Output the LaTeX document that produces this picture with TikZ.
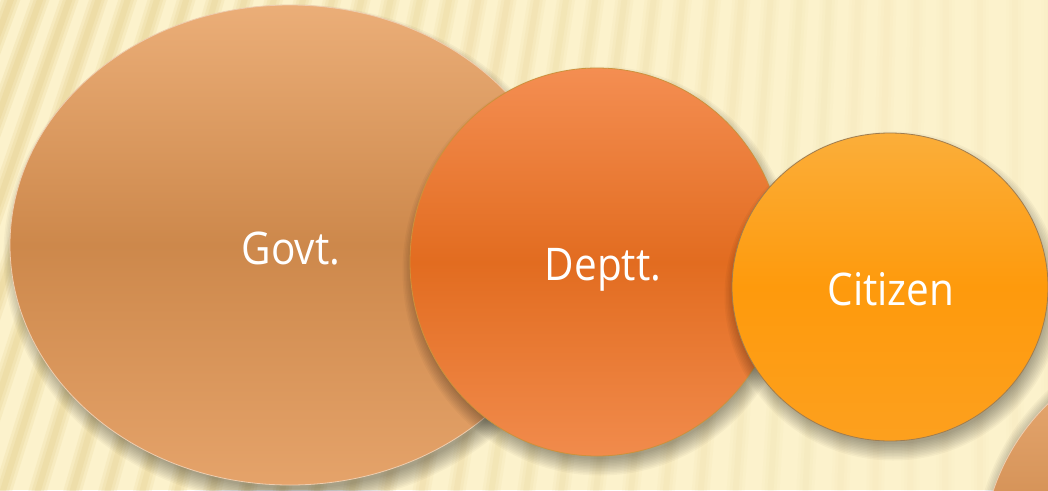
\documentclass[tikz,border=0pt]{standalone}
\usepackage{fontspec}
\setmainfont[FakeStretch=0.9]{Open Sans}
\usetikzlibrary{shapes.geometric}

\definecolor{bgC}{RGB}{252,242,204}
\definecolor{stripeC}{RGB}{228,206,140}
\definecolor{govtTop}{RGB}{235,174,120}
\definecolor{govtMid}{RGB}{205,136,75}
\definecolor{govtBot}{RGB}{229,163,106}
\definecolor{govtRim}{RGB}{238,205,175}
\definecolor{depTop}{RGB}{244,142,82}
\definecolor{depMid}{RGB}{226,108,32}
\definecolor{depBot}{RGB}{241,139,76}
\definecolor{depRim}{RGB}{205,145,60}
\definecolor{citTop}{RGB}{251,174,58}
\definecolor{citMid}{RGB}{254,154,12}
\definecolor{citBot}{RGB}{253,160,30}
\definecolor{citRim}{RGB}{160,125,80}

\tikzset{
  disc/.style={ellipse, inner sep=0pt, line width=0.8pt},
  softshadow/.style={fill=black, fill opacity=0.032},
  caption/.style={text=white, inner sep=0pt, anchor=base,
    font=\fontsize{45}{50}\selectfont},
  stripe/.style={draw=stripeC, line cap=butt},
}

% soft drop shadow under an ellipse centred at #1
\newcommand{\dropshade}[4]{%
  \foreach \k in {0,...,11}{
    \fill[softshadow] ([shift={(#4)}]#1)
      ellipse [x radius={#2pt-6pt+\k*1.5pt}, y radius={#3pt-6pt+\k*1.5pt}];
  }%
}

\begin{document}
\begin{tikzpicture}[x=1pt,y=-1pt]
  \useasboundingbox (0,0) rectangle (1048,490);

  % striped paper background, soft bands fading towards the right
  \fill[bgC] (0,0) rectangle (1048,490);
  \begin{scope}
    \clip (0,0) rectangle (1048,490);
    \foreach \i in {-8,...,32}{
      \pgfmathsetmacro\xb{\i*35}
      \pgfmathsetmacro\tl{max(0,160*(1-\xb/950))}
      \pgfmathsetmacro\op{max(0.10,0.75-0.75*\xb/1048)}
      \foreach \w/\f in {18/0.25,12/0.3,6/0.35}{
        \draw[stripe, line width=\w pt, draw opacity=\f*\op]
          (\xb,500) -- (\xb+\tl,-10);
      }
    }
  \end{scope}

  % centres
  \coordinate (govtC) at (290,245);
  \coordinate (depC) at (597,262);
  \coordinate (citC) at (890,287);
  \coordinate (cornerC) at (1200,560);

  % corner disc
  \dropshade{cornerC}{218}{218}{3,-2}
  \node[disc, minimum width=436pt, minimum height=436pt,
        top color=govtTop, bottom color=govtBot, middle color=govtMid,
        draw=govtRim] (corner) at (cornerC) {};

  % Govt.
  \dropshade{govtC}{280}{240}{4,10}
  \node[disc, minimum width=560pt, minimum height=480pt,
        top color=govtTop, bottom color=govtBot, middle color=govtMid,
        draw=govtRim] (govt) at (govtC) {};

  % Deptt.
  \dropshade{depC}{187}{194}{3,9}
  \node[disc, minimum width=374pt, minimum height=388pt,
        top color=depTop, bottom color=depBot, middle color=depMid,
        draw=depRim] (dept) at (depC) {};

  % Citizen
  \dropshade{citC}{158}{154}{3,9}
  \node[disc, minimum width=316pt, minimum height=308pt,
        top color=citTop, bottom color=citBot, middle color=citMid,
        draw=citRim] (cit) at (citC) {};

  % captions
  \node[caption] (govtT) at (291,264) {Govt.};
  \node[caption] (depT) at (603,280) {Deptt.};
  \node[caption] (citT) at (891,305) {Citizen};
\end{tikzpicture}
\end{document}
